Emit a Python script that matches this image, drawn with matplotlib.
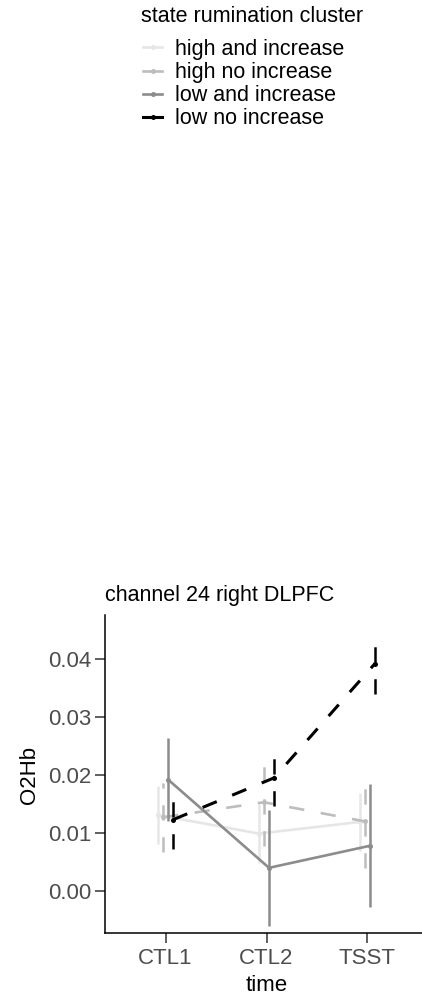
import matplotlib
matplotlib.use("Agg")
import matplotlib.pyplot as plt
import numpy as np
from matplotlib.lines import Line2D

# --- data -------------------------------------------------------------
time_points = ["CTL1", "CTL2", "TSST"]
clusters = ["high and increase", "high no increase", "low and increase", "low no increase"]

mean_high_inc = [0.0131, 0.0099, 0.0119]
mean_high_noinc = [0.0127, 0.0153, 0.0120]
mean_low_inc = [0.0192, 0.0040, 0.0078]
mean_low_noinc = [0.0123, 0.0195, 0.0392]

se_high_inc = [0.0050, 0.0051, 0.0050]
se_high_noinc = [0.0059, 0.0076, 0.0080]
se_low_inc = [0.0072, 0.0100, 0.0106]
se_low_noinc = [0.0051, 0.0048, 0.0053]

y_ticks = [0.00, 0.01, 0.02, 0.03, 0.04]

means = [mean_high_inc, mean_high_noinc, mean_low_inc, mean_low_noinc]
ses = [se_high_inc, se_high_noinc, se_low_inc, se_low_noinc]

# --- style ------------------------------------------------------------
plt.rcParams['font.family'] = ['Liberation Sans', 'DejaVu Sans']
plt.rcParams['lines.scale_dashes'] = False

colors = ["#e6e6e6", "#bdbdbd", "#8c8c8c", "#000000"]
dashed = (0, (11, 12))
linestyles = ["-", dashed, "-", dashed]
linewidths = [1.9, 1.9, 1.9, 2.2]
offsets = [-0.075, -0.025, 0.025, 0.075]

fig = plt.figure(figsize=(4.22, 10), dpi=100)
W, H = 422, 1000
ax = fig.add_axes([105 / W, 1 - 933 / H, 323 / W, (933 - 615) / H])

x = np.arange(1, len(time_points) + 1)
for i, name in enumerate(clusters):
    xs = x + offsets[i]
    eb = ax.errorbar(xs, means[i], yerr=ses[i], color=colors[i],
                     lw=linewidths[i], ls=linestyles[i],
                     marker='o', ms=3.6, mew=0,
                     elinewidth=1.8, capsize=3.0, capthick=1.8,
                     zorder=2 + i)
    eb[2][0].set_linestyle(linestyles[i])

ax.set_xlim(0.4, 3.6)
ax.set_ylim(-0.00723, 0.04756)
ax.set_xticks(x, time_points)
ax.set_yticks(y_ticks, [f"{v:.2f}" for v in y_ticks])

for side in ("top", "right"):
    ax.spines[side].set_visible(False)
for side in ("left", "bottom"):
    ax.spines[side].set_linewidth(1.1)
    ax.spines[side].set_color("black")

ax.tick_params(axis="both", length=7, width=1.1, color="#333333",
               labelcolor="#4d4d4d", labelsize=16, pad=3)
ax.tick_params(axis="x", pad=4)

ax.set_xlabel("time", fontsize=16, labelpad=4)
fig.text(30 / W, 1 - 775 / H, "O2Hb", rotation=90, fontsize=16,
         ha="center", va="center")
ax.set_title("channel 24 right DLPFC", loc="left", fontsize=15.5, pad=10)

# --- legend -----------------------------------------------------------
fig.text(141 / W, 1 - 17 / H, "state rumination cluster", fontsize=15.5,
         ha="left", va="center")
handles = [Line2D([0], [0], color=colors[i], lw=linewidths[i],
                  marker='o', ms=3.6, mew=0) for i in range(len(clusters))]
fig.legend(handles, clusters,
           loc="upper left", bbox_to_anchor=(143 / W, 1 - 39 / H),
           frameon=False, fontsize=15.5,
           handlelength=0.9, handletextpad=0.6, labelspacing=0.1,
           borderpad=0, borderaxespad=0)

fig.savefig("out.png", dpi=100)
